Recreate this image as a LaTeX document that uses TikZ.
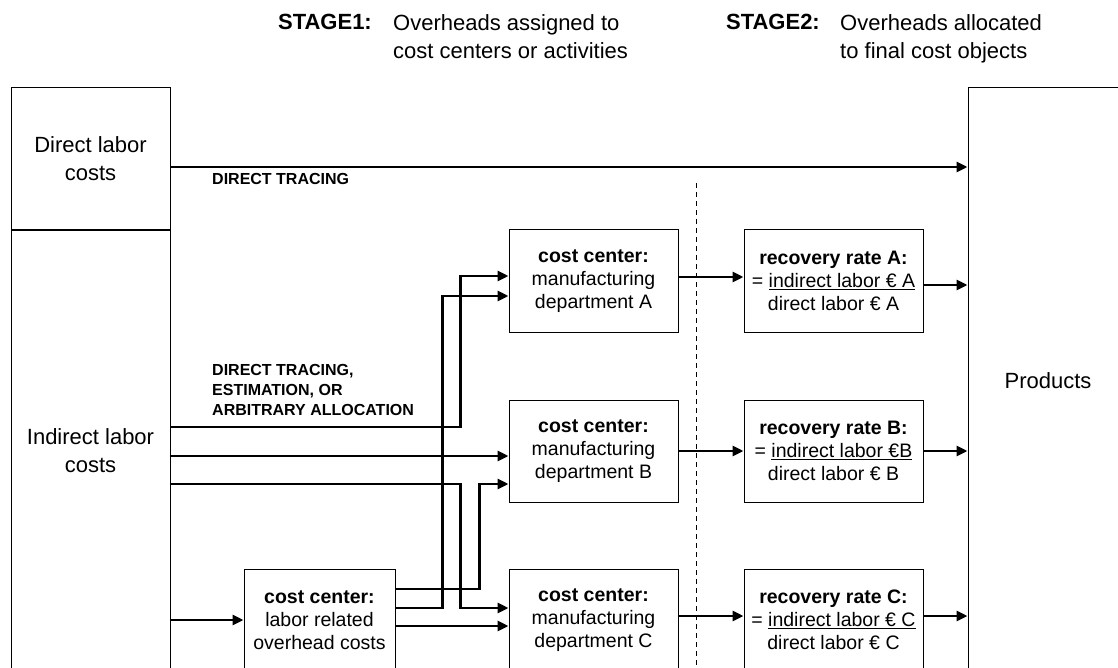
\documentclass[tikz,border=0pt]{standalone}
\usepackage{fontspec}
\setmainfont{Liberation Sans}
\usetikzlibrary{arrows.meta,positioning}
\tikzset{
  bigbox/.style = {rectangle, draw=black, line width=1pt, align=center,
                   font=\fontsize{22}{28}\selectfont, inner sep=0pt},
  ccbox/.style  = {rectangle, draw=black, line width=1pt, align=center,
                   font=\fontsize{19.5}{23}\selectfont, inner sep=0pt,
                   minimum width=169pt, minimum height=102pt},
  rrbox/.style  = {ccbox, minimum width=179pt},
  hdr/.style    = {font=\fontsize{22}{28}\selectfont, inner sep=0pt},
  lbl/.style    = {font=\fontsize{16}{20}\selectfont\bfseries, align=left,
                   anchor=west, inner sep=0pt},
  ar/.style     = {-{Triangle[length=11pt,width=10pt]}, line width=2.8pt}
}

\begin{document}
\begin{tikzpicture}[x=1pt, y=-1pt, node distance=65pt]
    \useasboundingbox (0,0) rectangle (1118,668);
    \clip (0,0) rectangle (1118,668);

    % ---- Stage headers ----
    \node[hdr, anchor=east] (st1) at (372,22) {\textbf{STAGE1:}};
    \node[hdr, anchor=north west, align=left] (st1t) at (393,14)
                     {Overheads assigned to\\ cost centers or activities};
    \node[hdr, anchor=east] (st2) at (820,22) {\textbf{STAGE2:}};
    \node[hdr, anchor=north west, align=left] (st2t) at (840,14)
                     {Overheads allocated\\ to final cost objects};

    % ---- Cost sources and final objects ----
    \node[bigbox, minimum width=159pt, minimum height=142pt] (dlc)
                     at (90.5,159) {Direct labor\\ costs};
    \node[bigbox, minimum width=159pt, minimum height=440pt,
          below=0pt of dlc] (ilc) {Indirect labor\\ costs};
    \node[bigbox, minimum width=160pt, minimum height=586pt] (prod)
                     at (1048,381) {Products};

    % ---- Cost centers ----
    \node[ccbox] (ccA) at (593.5,281)
                     {\textbf{cost center:}\\ manufacturing\\ department A};
    \node[ccbox, below=67pt of ccA] (ccB)
                     {\textbf{cost center:}\\ manufacturing\\ department B};
    \node[ccbox, below=66pt of ccB] (ccC)
                     {\textbf{cost center:}\\ manufacturing\\ department C};
    \node[ccbox, minimum width=151pt, left=113pt of ccC] (lcc)
                     {\textbf{cost center:}\\ labor related\\ overhead costs};

    % ---- Recovery rates ----
    \node[rrbox, right=of ccA] (rrA) {\textbf{recovery rate A:}\\
                     = \underline{indirect labor € A}\\ direct labor € A};
    \node[rrbox, right=of ccB] (rrB) {\textbf{recovery rate B:}\\
                     = \underline{indirect labor €B}\\ direct labor € B};
    \node[rrbox, right=of ccC] (rrC) {\textbf{recovery rate C:}\\
                     = \underline{indirect labor € C}\\ direct labor € C};

    % ---- Stage divider ----
    \coordinate (divtop) at (696,183);
    \coordinate (divbot) at (696,668);
    \draw[line width=1pt, dash pattern=on 5pt off 4pt] (divtop) -- (divbot);

    % ---- Labels ----
    \node[lbl] (dtl) at (212,179) {DIRECT TRACING};
    \node[lbl] (eal) at (212,390) {DIRECT TRACING,\\ ESTIMATION, OR\\
                     ARBITRARY ALLOCATION};

    % ---- Arrows ----
    \draw[ar] ([yshift=-8pt]dlc.east) coordinate (dt) -- (dt -| prod.west);
    \draw[ar] ([yshift=24pt]ilc.east) -| ([xshift=-48pt,yshift=5pt]ccA.west)
              -- ([yshift=5pt]ccA.west);
    \draw[ar] ([yshift=-5pt]ilc.east) -- ([yshift=-5pt]ccB.west);
    \draw[ar] ([yshift=-33pt]ilc.east) -| ([xshift=-48pt,yshift=12pt]ccC.west)
              -- ([yshift=12pt]ccC.west);
    \draw[ar] (ilc.east |- lcc.west) -- (lcc.west);
    \draw[ar] ([yshift=12pt]lcc.east) -| ([xshift=-66pt,yshift=-15pt]ccA.west)
              -- ([yshift=-15pt]ccA.west);
    \draw[ar] ([yshift=31pt]lcc.east) -| ([xshift=-29pt,yshift=-33pt]ccB.west)
              -- ([yshift=-33pt]ccB.west);
    \draw[ar] ([yshift=-6pt]lcc.east) -- ([yshift=-6pt]ccC.west);
    \draw[ar] ([yshift=4pt]ccA.east) -- ([yshift=4pt]rrA.west);
    \draw[ar] (ccB) -- (rrB);
    \draw[ar] ([yshift=4pt]ccC.east) -- ([yshift=4pt]rrC.west);
    \draw[ar] ([yshift=-4pt]rrA.east) coordinate (ra)
              -- (ra -| prod.west);
    \draw[ar] (rrB.east) -- (rrB.east -| prod.west);
    \draw[ar] ([yshift=4pt]rrC.east) coordinate (rc)
              -- (rc -| prod.west);
\end{tikzpicture}
\end{document}
